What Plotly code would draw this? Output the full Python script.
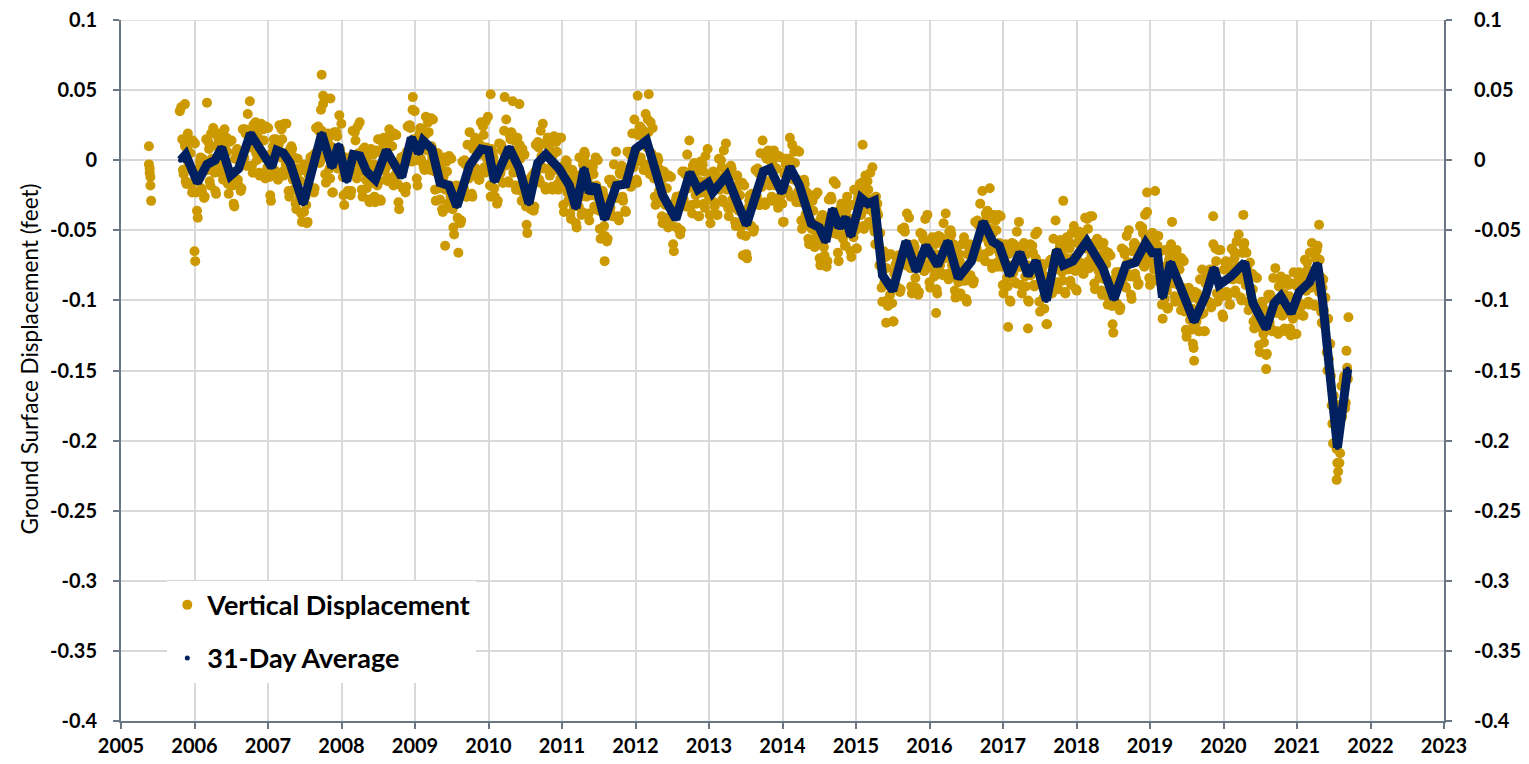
import plotly.graph_objects as go

# ---------------- DATA ----------------
# 31-day average (decimal year, feet)
avg_years = [2005.81, 2005.88, 2006.04, 2006.17, 2006.28, 2006.37, 2006.49, 2006.60, 2006.76, 2006.90,
             2007.05, 2007.12, 2007.21, 2007.30, 2007.48, 2007.73, 2007.87, 2007.96, 2008.07, 2008.16,
             2008.25, 2008.34, 2008.46, 2008.61, 2008.71, 2008.82, 2008.95, 2009.05, 2009.11, 2009.23,
             2009.34, 2009.46, 2009.57, 2009.74, 2009.90, 2010.00, 2010.08, 2010.28, 2010.42, 2010.55,
             2010.67, 2010.78, 2010.96, 2011.10, 2011.19, 2011.30, 2011.37, 2011.46, 2011.58, 2011.74,
             2011.87, 2012.00, 2012.15, 2012.37, 2012.55, 2012.74, 2012.85, 2012.99, 2013.05, 2013.24,
             2013.37, 2013.51, 2013.74, 2013.83, 2013.99, 2014.10, 2014.23, 2014.39, 2014.50, 2014.59,
             2014.68, 2014.77, 2014.86, 2014.93, 2015.07, 2015.16, 2015.25, 2015.36, 2015.50, 2015.68,
             2015.82, 2015.95, 2016.11, 2016.25, 2016.39, 2016.57, 2016.73, 2016.86, 2016.95, 2017.09,
             2017.23, 2017.34, 2017.45, 2017.59, 2017.73, 2017.82, 2017.95, 2018.14, 2018.36, 2018.51,
             2018.67, 2018.80, 2018.94, 2019.03, 2019.10, 2019.17, 2019.28, 2019.40, 2019.60, 2019.76,
             2019.87, 2019.94, 2020.10, 2020.29, 2020.40, 2020.58, 2020.69, 2020.78, 2020.85, 2020.92,
             2021.03, 2021.17, 2021.28, 2021.35, 2021.44, 2021.55, 2021.69]
avg_values = [0.000, 0.004, -0.016, -0.003, 0.000, 0.009, -0.011, -0.006, 0.019, 0.008,
              -0.005, 0.007, 0.005, -0.002, -0.031, 0.019, -0.005, 0.011, -0.015, 0.004,
              0.003, -0.008, -0.014, 0.007, -0.002, -0.012, 0.016, 0.005, 0.014, 0.008,
              -0.016, -0.018, -0.033, -0.004, 0.008, 0.007, -0.015, 0.009, -0.006, -0.031,
              -0.002, 0.004, -0.006, -0.018, -0.034, -0.006, -0.023, -0.018, -0.042, -0.018,
              -0.017, 0.008, 0.014, -0.025, -0.042, -0.009, -0.021, -0.016, -0.023, -0.011,
              -0.028, -0.046, -0.008, -0.006, -0.023, -0.005, -0.018, -0.045, -0.048, -0.058,
              -0.035, -0.048, -0.041, -0.054, -0.027, -0.031, -0.029, -0.082, -0.093, -0.058,
              -0.079, -0.061, -0.075, -0.058, -0.084, -0.072, -0.044, -0.058, -0.061, -0.082,
              -0.066, -0.082, -0.072, -0.100, -0.064, -0.075, -0.072, -0.058, -0.077, -0.099,
              -0.075, -0.073, -0.059, -0.066, -0.066, -0.098, -0.073, -0.088, -0.115, -0.096,
              -0.077, -0.089, -0.083, -0.073, -0.102, -0.120, -0.102, -0.097, -0.103, -0.109,
              -0.094, -0.087, -0.074, -0.101, -0.148, -0.205, -0.149]

# Vertical displacement readings, one list per 52-week block starting 2005-11-01.
# disp_blocks: readings at the start of each week; disp_blocks_mid: readings mid-week.
block_start_years = [2005.833 + k * 364 / 365.25 for k in range(16)]
disp_blocks = [
    [0.015,-0.010,0.010,-0.017,0.019,-0.006,0.005,-0.023,-0.007,0.012,-0.023,-0.041,-0.006,0.002,-0.022,-0.002,-0.026,0.015,-0.007,0.008,-0.018,0.001,0.023,-0.009,-0.024,0.011,0.019,-0.005,0.015,-0.014,0.022,-0.004,0.006,-0.024,-0.009,0.014,-0.018,-0.033,0.001,0.008,-0.018,0.003,-0.020,0.022,0.002,0.019,-0.004,0.017,0.042,0.009,-0.009,0.021],
    [0.027,0.000,0.016,-0.011,0.026,0.002,0.014,-0.013,0.003,0.023,-0.012,-0.029,0.005,0.015,-0.008,0.013,-0.014,0.025,0.002,0.015,-0.011,0.005,0.026,-0.009,-0.026,0.005,0.008,-0.021,-0.006,-0.035,0.001,-0.026,-0.015,-0.044,-0.029,-0.003,-0.032,-0.044,-0.008,0.002,-0.020,0.002,-0.020,0.023,0.004,0.021,-0.001,0.021,0.040,0.003,-0.016,0.014],
    [0.016,-0.013,0.002,-0.023,0.020,0.000,0.017,-0.005,0.008,0.026,-0.012,-0.032,-0.004,0.000,-0.022,0.000,-0.022,0.021,0.000,0.014,-0.013,0.005,0.027,-0.008,-0.026,0.004,0.008,-0.020,-0.003,-0.030,0.008,-0.016,-0.003,-0.030,-0.010,0.015,-0.015,-0.029,0.007,0.016,-0.007,0.013,-0.015,0.022,-0.003,0.010,-0.018,-0.002,0.018,-0.017,-0.035,-0.003],
    [0.002,-0.020,0.002,-0.019,0.024,0.005,0.023,-0.001,0.015,0.035,0.000,-0.018,0.014,0.023,-0.001,0.020,-0.007,0.031,0.007,0.020,-0.007,0.010,0.029,-0.008,-0.029,0.000,0.002,-0.028,-0.010,-0.037,0.002,-0.021,-0.008,-0.034,-0.018,0.001,-0.035,-0.053,-0.023,-0.019,-0.042,-0.020,-0.043,-0.001,-0.020,-0.003,-0.026,-0.005,0.020,-0.011,-0.026,0.008],
    [0.016,-0.009,0.011,-0.014,0.027,0.004,0.018,-0.009,0.009,0.031,-0.005,-0.026,0.001,0.002,-0.026,-0.006,-0.029,0.012,-0.009,0.007,-0.016,0.004,0.029,-0.002,-0.016,0.015,0.019,-0.009,0.007,-0.021,0.016,-0.009,0.001,-0.029,-0.014,0.004,-0.033,-0.052,-0.023,-0.013,-0.034,-0.011,-0.033,0.011,-0.007,0.009,-0.016,0.003,0.026,-0.006,-0.021,0.011],
    [0.016,-0.011,0.006,-0.021,0.017,-0.007,0.006,-0.021,-0.005,0.016,-0.019,-0.037,-0.005,-0.001,-0.029,-0.013,-0.042,-0.007,-0.033,-0.022,-0.048,-0.025,0.002,-0.026,-0.037,0.001,0.004,-0.026,-0.013,-0.043,-0.003,-0.025,-0.010,-0.035,-0.018,0.000,-0.036,-0.056,-0.027,-0.025,-0.054,-0.033,-0.056,-0.014,-0.034,-0.017,-0.040,-0.019,0.006,-0.027,-0.043,-0.010],
    [-0.004,-0.029,-0.011,-0.037,0.006,-0.014,0.004,-0.018,0.003,0.029,-0.001,-0.016,0.018,0.024,-0.001,0.018,-0.007,0.033,0.009,0.020,-0.010,0.005,0.023,-0.013,-0.032,-0.003,0.000,-0.030,-0.015,-0.045,-0.008,-0.032,-0.020,-0.048,-0.032,-0.012,-0.047,-0.065,-0.033,-0.026,-0.049,-0.028,-0.050,-0.008,-0.028,-0.010,-0.033,-0.012,0.014,-0.019,-0.038,-0.007],
    [-0.003,-0.031,-0.015,-0.040,-0.001,-0.023,-0.008,-0.034,-0.015,0.008,-0.026,-0.045,-0.014,-0.008,-0.033,-0.014,-0.039,0.001,-0.020,-0.005,-0.030,-0.011,0.012,-0.021,-0.040,-0.009,-0.006,-0.034,-0.019,-0.047,-0.011,-0.036,-0.025,-0.053,-0.038,-0.018,-0.054,-0.070,-0.034,-0.025,-0.047,-0.026,-0.049,-0.007,-0.026,-0.009,-0.032,-0.011,0.014,-0.017,-0.032,0.001],
    [0.007,-0.018,-0.001,-0.029,0.007,-0.018,-0.006,-0.034,-0.018,0.002,-0.031,-0.044,-0.008,0.001,-0.022,0.000,-0.026,0.011,-0.014,-0.002,-0.030,-0.014,0.006,-0.030,-0.049,-0.019,-0.017,-0.046,-0.031,-0.060,-0.025,-0.049,-0.036,-0.062,-0.045,-0.023,-0.057,-0.075,-0.044,-0.040,-0.068,-0.051,-0.072,-0.028,-0.046,-0.028,-0.052,-0.037,-0.017,-0.053,-0.072,-0.039],
    [-0.031,-0.056,-0.036,-0.061,-0.026,-0.052,-0.042,-0.069,-0.047,-0.021,-0.050,-0.063,-0.026,-0.017,-0.039,-0.022,-0.049,-0.011,-0.035,-0.021,-0.046,-0.028,-0.005,-0.038,-0.060,-0.036,-0.039,-0.075,-0.066,-0.101,-0.065,-0.089,-0.077,-0.104,-0.088,-0.067,-0.102,-0.115,-0.079,-0.069,-0.091,-0.069,-0.092,-0.049,-0.068,-0.051,-0.075,-0.060,-0.041,-0.077,-0.095,-0.065],
    [-0.062,-0.091,-0.071,-0.094,-0.052,-0.073,-0.056,-0.079,-0.059,-0.039,-0.074,-0.091,-0.060,-0.056,-0.083,-0.067,-0.095,-0.054,-0.075,-0.058,-0.082,-0.062,-0.038,-0.068,-0.085,-0.055,-0.053,-0.083,-0.068,-0.098,-0.062,-0.087,-0.072,-0.097,-0.078,-0.055,-0.086,-0.101,-0.067,-0.060,-0.084,-0.063,-0.086,-0.044,-0.063,-0.046,-0.068,-0.047,-0.022,-0.054,-0.072,-0.041],
    [-0.037,-0.065,-0.049,-0.077,-0.039,-0.063,-0.050,-0.076,-0.059,-0.040,-0.076,-0.095,-0.065,-0.062,-0.090,-0.075,-0.101,-0.059,-0.080,-0.064,-0.088,-0.068,-0.044,-0.076,-0.095,-0.064,-0.061,-0.090,-0.075,-0.101,-0.060,-0.081,-0.066,-0.090,-0.070,-0.051,-0.088,-0.108,-0.079,-0.076,-0.106,-0.092,-0.117,-0.073,-0.091,-0.072,-0.093,-0.070,-0.043,-0.074,-0.092,-0.062],
    [-0.058,-0.086,-0.069,-0.095,-0.055,-0.078,-0.063,-0.089,-0.070,-0.047,-0.079,-0.093,-0.059,-0.051,-0.076,-0.056,-0.081,-0.041,-0.062,-0.049,-0.077,-0.060,-0.040,-0.075,-0.092,-0.061,-0.057,-0.084,-0.068,-0.096,-0.059,-0.085,-0.074,-0.103,-0.087,-0.068,-0.104,-0.123,-0.089,-0.080,-0.103,-0.082,-0.105,-0.063,-0.084,-0.067,-0.091,-0.073,-0.050,-0.083,-0.099,-0.065],
    [-0.059,-0.084,-0.064,-0.088,-0.047,-0.068,-0.052,-0.076,-0.057,-0.037,-0.071,-0.089,-0.057,-0.052,-0.078,-0.060,-0.086,-0.054,-0.085,-0.080,-0.113,-0.091,-0.064,-0.093,-0.105,-0.067,-0.060,-0.088,-0.072,-0.101,-0.064,-0.089,-0.078,-0.107,-0.091,-0.072,-0.108,-0.126,-0.096,-0.092,-0.121,-0.106,-0.134,-0.094,-0.115,-0.099,-0.122,-0.102,-0.078,-0.109,-0.122,-0.087],
    [-0.079,-0.101,-0.080,-0.103,-0.060,-0.083,-0.072,-0.101,-0.086,-0.064,-0.097,-0.112,-0.078,-0.072,-0.097,-0.078,-0.103,-0.063,-0.085,-0.070,-0.095,-0.076,-0.053,-0.085,-0.100,-0.066,-0.059,-0.089,-0.076,-0.107,-0.073,-0.101,-0.092,-0.120,-0.104,-0.084,-0.119,-0.137,-0.106,-0.102,-0.130,-0.114,-0.138,-0.096,-0.116,-0.099,-0.121,-0.100,-0.077,-0.109,-0.124,-0.090],
    [-0.083,-0.111,-0.095,-0.122,-0.085,-0.109,-0.097,-0.125,-0.105,-0.080,-0.111,-0.124,-0.089,-0.080,-0.105,-0.086,-0.111,-0.071,-0.093,-0.078,-0.103,-0.083,-0.059,-0.090,-0.104,-0.069,-0.061,-0.094,-0.083,-0.116,-0.085,-0.118,-0.114,-0.150,-0.142,-0.131,-0.175,-0.202,-0.179,-0.184,-0.216,-0.191,-0.209,-0.161,-0.176,-0.154,-0.173,-0.148],
]
disp_blocks_mid = [
    [-0.007,0.013,-0.015,0.008,-0.003,0.014,-0.018,0.014,-0.015,-0.011,-0.036,-0.007,-0.001,-0.020,0.001,-0.027,-0.001,-0.007,0.013,-0.015,0.019,-0.007,0.000,-0.022,0.010,0.016,-0.003,0.018,-0.010,0.011,0.000,0.016,-0.017,0.013,-0.017,-0.009,-0.031,0.001,0.006,-0.014,0.005,-0.022,0.005,0.000,0.022,-0.004,0.033,0.009,0.019,-0.004,0.025,0.026],
    [0.005,0.023,-0.009,0.014,0.004,0.022,-0.009,0.024,-0.005,0.000,-0.025,0.005,0.010,-0.007,0.015,-0.012,0.011,0.003,0.022,-0.008,0.026,-0.003,0.003,-0.022,0.008,0.010,-0.014,0.002,-0.031,-0.010,-0.021,-0.006,-0.038,-0.007,-0.037,-0.026,-0.045,-0.010,-0.003,-0.020,0.003,-0.023,0.005,0.001,0.024,-0.002,0.036,0.013,0.017,-0.010,0.018,0.019],
    [-0.006,0.010,-0.023,0.002,-0.002,0.020,-0.006,0.032,0.000,0.003,-0.025,0.002,0.001,-0.022,0.001,-0.025,0.003,-0.001,0.020,-0.009,0.024,-0.003,0.004,-0.021,0.008,0.009,-0.014,0.003,-0.028,-0.005,-0.014,0.004,-0.026,0.007,-0.018,-0.008,-0.028,0.005,0.012,-0.006,0.016,-0.012,0.010,0.000,0.017,-0.013,0.019,-0.010,-0.005,-0.030,-0.001,0.002],
    [-0.020,0.003,-0.023,0.006,0.002,0.025,0.000,0.036,0.007,0.012,-0.013,0.016,0.019,0.001,0.022,-0.005,0.018,0.009,0.027,-0.003,0.030,0.002,0.006,-0.021,0.005,0.005,-0.020,-0.005,-0.035,-0.012,-0.020,-0.001,-0.031,0.003,-0.026,-0.022,-0.048,-0.019,-0.018,-0.041,-0.019,-0.045,-0.018,-0.023,0.000,-0.026,0.011,-0.013,-0.003,-0.024,0.008,0.013],
    [-0.006,0.014,-0.014,0.011,0.005,0.024,-0.005,0.028,0.001,0.008,-0.018,0.008,0.006,-0.020,-0.003,-0.031,-0.004,-0.010,0.011,-0.016,0.021,-0.004,0.006,-0.015,0.018,0.020,-0.003,0.014,-0.018,0.004,-0.006,0.011,-0.022,0.008,-0.022,-0.019,-0.046,-0.018,-0.018,-0.035,-0.011,-0.036,-0.008,-0.011,0.013,-0.014,0.021,-0.005,0.003,-0.019,0.013,0.016],
    [-0.006,0.012,-0.019,0.004,-0.005,0.013,-0.017,0.016,-0.013,-0.007,-0.032,-0.003,0.000,-0.023,-0.006,-0.038,-0.017,-0.029,-0.013,-0.045,-0.011,-0.033,-0.021,-0.039,-0.003,0.006,-0.018,-0.003,-0.038,-0.018,-0.025,-0.005,-0.033,0.002,-0.026,-0.023,-0.049,-0.022,-0.022,-0.047,-0.031,-0.058,-0.031,-0.036,-0.014,-0.040,-0.003,-0.027,-0.017,-0.040,-0.009,-0.005],
    [-0.026,-0.006,-0.036,-0.012,-0.016,0.006,-0.019,0.019,-0.005,0.006,-0.014,0.018,0.023,0.002,0.022,-0.007,0.018,0.011,0.029,-0.003,0.027,-0.003,0.000,-0.026,0.002,0.002,-0.022,-0.007,-0.040,-0.020,-0.030,-0.012,-0.043,-0.011,-0.040,-0.035,-0.060,-0.031,-0.028,-0.048,-0.026,-0.053,-0.025,-0.030,-0.008,-0.033,0.004,-0.020,-0.009,-0.032,-0.004,-0.002],
    [-0.025,-0.008,-0.040,-0.015,-0.023,-0.003,-0.031,0.003,-0.023,-0.015,-0.039,-0.011,-0.009,-0.030,-0.010,-0.039,-0.014,-0.021,0.000,-0.028,0.007,-0.019,-0.011,-0.034,-0.006,-0.004,-0.028,-0.011,-0.044,-0.022,-0.033,-0.016,-0.048,-0.016,-0.046,-0.041,-0.067,-0.036,-0.029,-0.047,-0.024,-0.051,-0.024,-0.029,-0.006,-0.032,0.005,-0.019,-0.009,-0.030,0.002,0.006],
    [-0.015,0.005,-0.026,-0.004,-0.015,0.002,-0.029,0.003,-0.026,-0.021,-0.044,-0.010,-0.003,-0.021,0.001,-0.025,-0.001,-0.011,0.006,-0.025,0.007,-0.022,-0.017,-0.043,-0.015,-0.014,-0.039,-0.023,-0.056,-0.035,-0.047,-0.029,-0.059,-0.025,-0.053,-0.046,-0.070,-0.041,-0.039,-0.062,-0.045,-0.076,-0.047,-0.050,-0.026,-0.051,-0.015,-0.045,-0.040,-0.066,-0.038,-0.034],
    [-0.053,-0.033,-0.061,-0.036,-0.048,-0.032,-0.065,-0.032,-0.055,-0.044,-0.063,-0.029,-0.021,-0.039,-0.016,-0.047,-0.024,-0.033,-0.015,-0.044,-0.009,-0.036,-0.028,-0.051,-0.026,-0.031,-0.061,-0.052,-0.091,-0.076,-0.087,-0.069,-0.100,-0.067,-0.096,-0.090,-0.115,-0.081,-0.074,-0.091,-0.068,-0.094,-0.067,-0.071,-0.048,-0.074,-0.038,-0.068,-0.064,-0.090,-0.061,-0.060],
    [-0.084,-0.068,-0.096,-0.069,-0.074,-0.053,-0.079,-0.042,-0.067,-0.062,-0.087,-0.057,-0.055,-0.078,-0.060,-0.092,-0.070,-0.076,-0.055,-0.081,-0.045,-0.070,-0.061,-0.081,-0.051,-0.050,-0.075,-0.060,-0.093,-0.073,-0.084,-0.067,-0.095,-0.060,-0.086,-0.078,-0.099,-0.067,-0.062,-0.082,-0.061,-0.088,-0.061,-0.066,-0.043,-0.069,-0.031,-0.055,-0.045,-0.067,-0.038,-0.036],
    [-0.059,-0.042,-0.074,-0.052,-0.061,-0.043,-0.073,-0.039,-0.067,-0.063,-0.089,-0.061,-0.060,-0.084,-0.067,-0.100,-0.076,-0.081,-0.060,-0.087,-0.051,-0.076,-0.067,-0.089,-0.061,-0.059,-0.083,-0.067,-0.100,-0.076,-0.082,-0.061,-0.089,-0.053,-0.078,-0.074,-0.101,-0.074,-0.074,-0.098,-0.083,-0.117,-0.092,-0.095,-0.071,-0.095,-0.056,-0.078,-0.066,-0.087,-0.058,-0.057],
    [-0.080,-0.063,-0.094,-0.070,-0.077,-0.058,-0.086,-0.052,-0.078,-0.070,-0.092,-0.059,-0.054,-0.073,-0.053,-0.081,-0.056,-0.063,-0.042,-0.072,-0.040,-0.068,-0.063,-0.088,-0.058,-0.056,-0.079,-0.061,-0.093,-0.071,-0.081,-0.065,-0.097,-0.066,-0.095,-0.091,-0.117,-0.089,-0.084,-0.102,-0.080,-0.107,-0.080,-0.085,-0.064,-0.090,-0.054,-0.081,-0.073,-0.096,-0.065,-0.060],
    [-0.081,-0.061,-0.089,-0.063,-0.069,-0.048,-0.075,-0.039,-0.065,-0.060,-0.084,-0.055,-0.052,-0.074,-0.055,-0.085,-0.061,-0.076,-0.065,-0.103,-0.076,-0.099,-0.087,-0.106,-0.071,-0.062,-0.082,-0.065,-0.097,-0.076,-0.086,-0.069,-0.101,-0.070,-0.099,-0.095,-0.121,-0.092,-0.091,-0.114,-0.098,-0.131,-0.109,-0.116,-0.095,-0.122,-0.085,-0.110,-0.101,-0.122,-0.088,-0.082],
    [-0.101,-0.078,-0.105,-0.078,-0.082,-0.063,-0.095,-0.064,-0.094,-0.087,-0.110,-0.078,-0.073,-0.094,-0.074,-0.103,-0.078,-0.085,-0.065,-0.093,-0.058,-0.084,-0.076,-0.098,-0.066,-0.061,-0.081,-0.066,-0.101,-0.082,-0.095,-0.081,-0.115,-0.083,-0.112,-0.107,-0.132,-0.103,-0.101,-0.124,-0.107,-0.139,-0.113,-0.118,-0.096,-0.122,-0.084,-0.108,-0.100,-0.122,-0.090,-0.085],
    [-0.105,-0.088,-0.120,-0.097,-0.107,-0.089,-0.120,-0.088,-0.113,-0.103,-0.124,-0.090,-0.084,-0.102,-0.082,-0.111,-0.086,-0.093,-0.073,-0.101,-0.066,-0.091,-0.082,-0.103,-0.070,-0.064,-0.083,-0.071,-0.108,-0.091,-0.107,-0.098,-0.137,-0.113,-0.150,-0.154,-0.188,-0.168,-0.174,-0.206,-0.193,-0.216,-0.184,-0.183,-0.156,-0.177,-0.136,-0.156],
]

# Isolated / outlying readings (decimal year, feet)
outlier_years = [2005.38, 2005.38, 2005.39, 2005.39, 2005.40, 2005.40, 2005.41,
                 2005.80, 2005.82, 2005.87, 2006.00, 2006.01, 2006.17, 2007.73, 2007.75, 2007.85,
                 2008.97, 2009.59, 2009.41, 2010.03, 2010.22, 2010.33, 2010.42, 2011.58,
                 2012.03, 2012.18, 2013.46, 2014.10, 2015.09, 2015.41, 2016.09, 2016.82,
                 2017.07, 2017.34, 2017.82, 2018.96, 2019.07, 2019.30, 2019.60, 2019.86,
                 2020.27, 2020.58, 2021.30, 2021.54, 2021.56, 2021.70]
outlier_values = [0.010, -0.003, -0.006, -0.009, -0.012, -0.018, -0.029,
                  0.035, 0.038, 0.040, -0.065, -0.072, 0.041, 0.061, 0.046, 0.044,
                  0.045, -0.066, -0.061, 0.047, 0.045, 0.042, 0.040, -0.072,
                  0.046, 0.047, -0.068, 0.016, 0.011, -0.116, -0.109, -0.020,
                  -0.119, -0.120, -0.029, -0.023, -0.022, -0.044, -0.143, -0.040,
                  -0.039, -0.149, -0.046, -0.228, -0.222, -0.112]

year_ticks = list(range(2005, 2024))
year_labels = [str(y) for y in year_ticks]
y_ticks = [0.1, 0.05, 0, -0.05, -0.1, -0.15, -0.2, -0.25, -0.3, -0.35, -0.4]
y_labels = ["0.1", "0.05", "0", "-0.05", "-0.1", "-0.15", "-0.2", "-0.25", "-0.3", "-0.35", "-0.4"]
y_title = "Ground Surface Displacement (feet)"

# ---------------- BUILD ----------------
WEEK = 7 / 365.25
disp_x, disp_y = [], []
for start, vals, mids in zip(block_start_years, disp_blocks, disp_blocks_mid):
    for j, v in enumerate(vals):
        disp_x.append(start + j * WEEK)
        disp_y.append(v)
    for j, v in enumerate(mids):
        disp_x.append(start + (j + 0.5) * WEEK)
        disp_y.append(v)
disp_x += outlier_years
disp_y += outlier_values

GOLD = "#CC9900"
NAVY = "#002060"
AXIS = "#6B7785"
GRID = "#D9D9D9"

fig = go.Figure()
fig.add_trace(go.Scatter(
    x=disp_x, y=disp_y, mode="markers", name="Vertical Displacement",
    marker=dict(color=GOLD, size=10, line=dict(width=0)), legendgroup="a"))
fig.add_trace(go.Scatter(
    x=avg_years, y=avg_values, mode="markers", name="31-Day Average", yaxis="y2",
    marker=dict(color=NAVY, size=5), legendgroup="b"))
fig.add_trace(go.Scatter(
    x=avg_years, y=avg_values, mode="lines", name="31-Day Average", showlegend=False,
    line=dict(color=NAVY, width=9), legendgroup="b"))

tickfont = dict(family="Lato", size=20, color="#000000", weight="bold")
axis_common = dict(showline=True, linecolor=AXIS, linewidth=2, ticks="outside", ticklen=6,
                   tickcolor=AXIS, tickwidth=1.5, zeroline=False, tickfont=tickfont,
                   automargin=False, ticklabeloverflow="allow")

# the page body adds an 8px offset; margins place the plot area at about x 121-1444, y 20-721
fig.update_layout(
    width=1529, height=764,
    margin=dict(l=113, r=93, t=12, b=51),
    paper_bgcolor="white", plot_bgcolor="white",
    font=dict(family="Lato", color="#000000"),
    showlegend=True,
    legend=dict(x=0.035, y=0.200, xanchor="left", yanchor="top", bgcolor="white",
                font=dict(family="Lato", size=27, color="#000000", weight="bold"),
                tracegroupgap=15, itemsizing="trace"),
    xaxis=dict(range=[2005, 2023], tickvals=year_ticks, ticktext=year_labels,
               showgrid=True, gridcolor=GRID, gridwidth=1.5, **axis_common),
    yaxis=dict(range=[-0.4, 0.1], tickvals=y_ticks, ticktext=y_labels,
               showgrid=True, gridcolor=GRID, gridwidth=1.5, ticklabelstandoff=12,
               **axis_common),
    yaxis2=dict(range=[-0.4, 0.1], tickvals=y_ticks, ticktext=y_labels, overlaying="y",
                side="right", showgrid=False, ticklabelstandoff=18, **axis_common),
    shapes=[dict(type="line", xref="paper", yref="y", x0=0, x1=1, y0=y_ticks[0], y1=y_ticks[0],
                 line=dict(color=GRID, width=1.5), layer="below")],
    annotations=[dict(text=y_title, textangle=-90, xref="paper", yref="paper",
                      x=-0.0688, y=0.517, xanchor="center", yanchor="middle", showarrow=False,
                      font=dict(family="Lato", size=22.5, color="#000000"))],
)

fig.write_html("out.html")
